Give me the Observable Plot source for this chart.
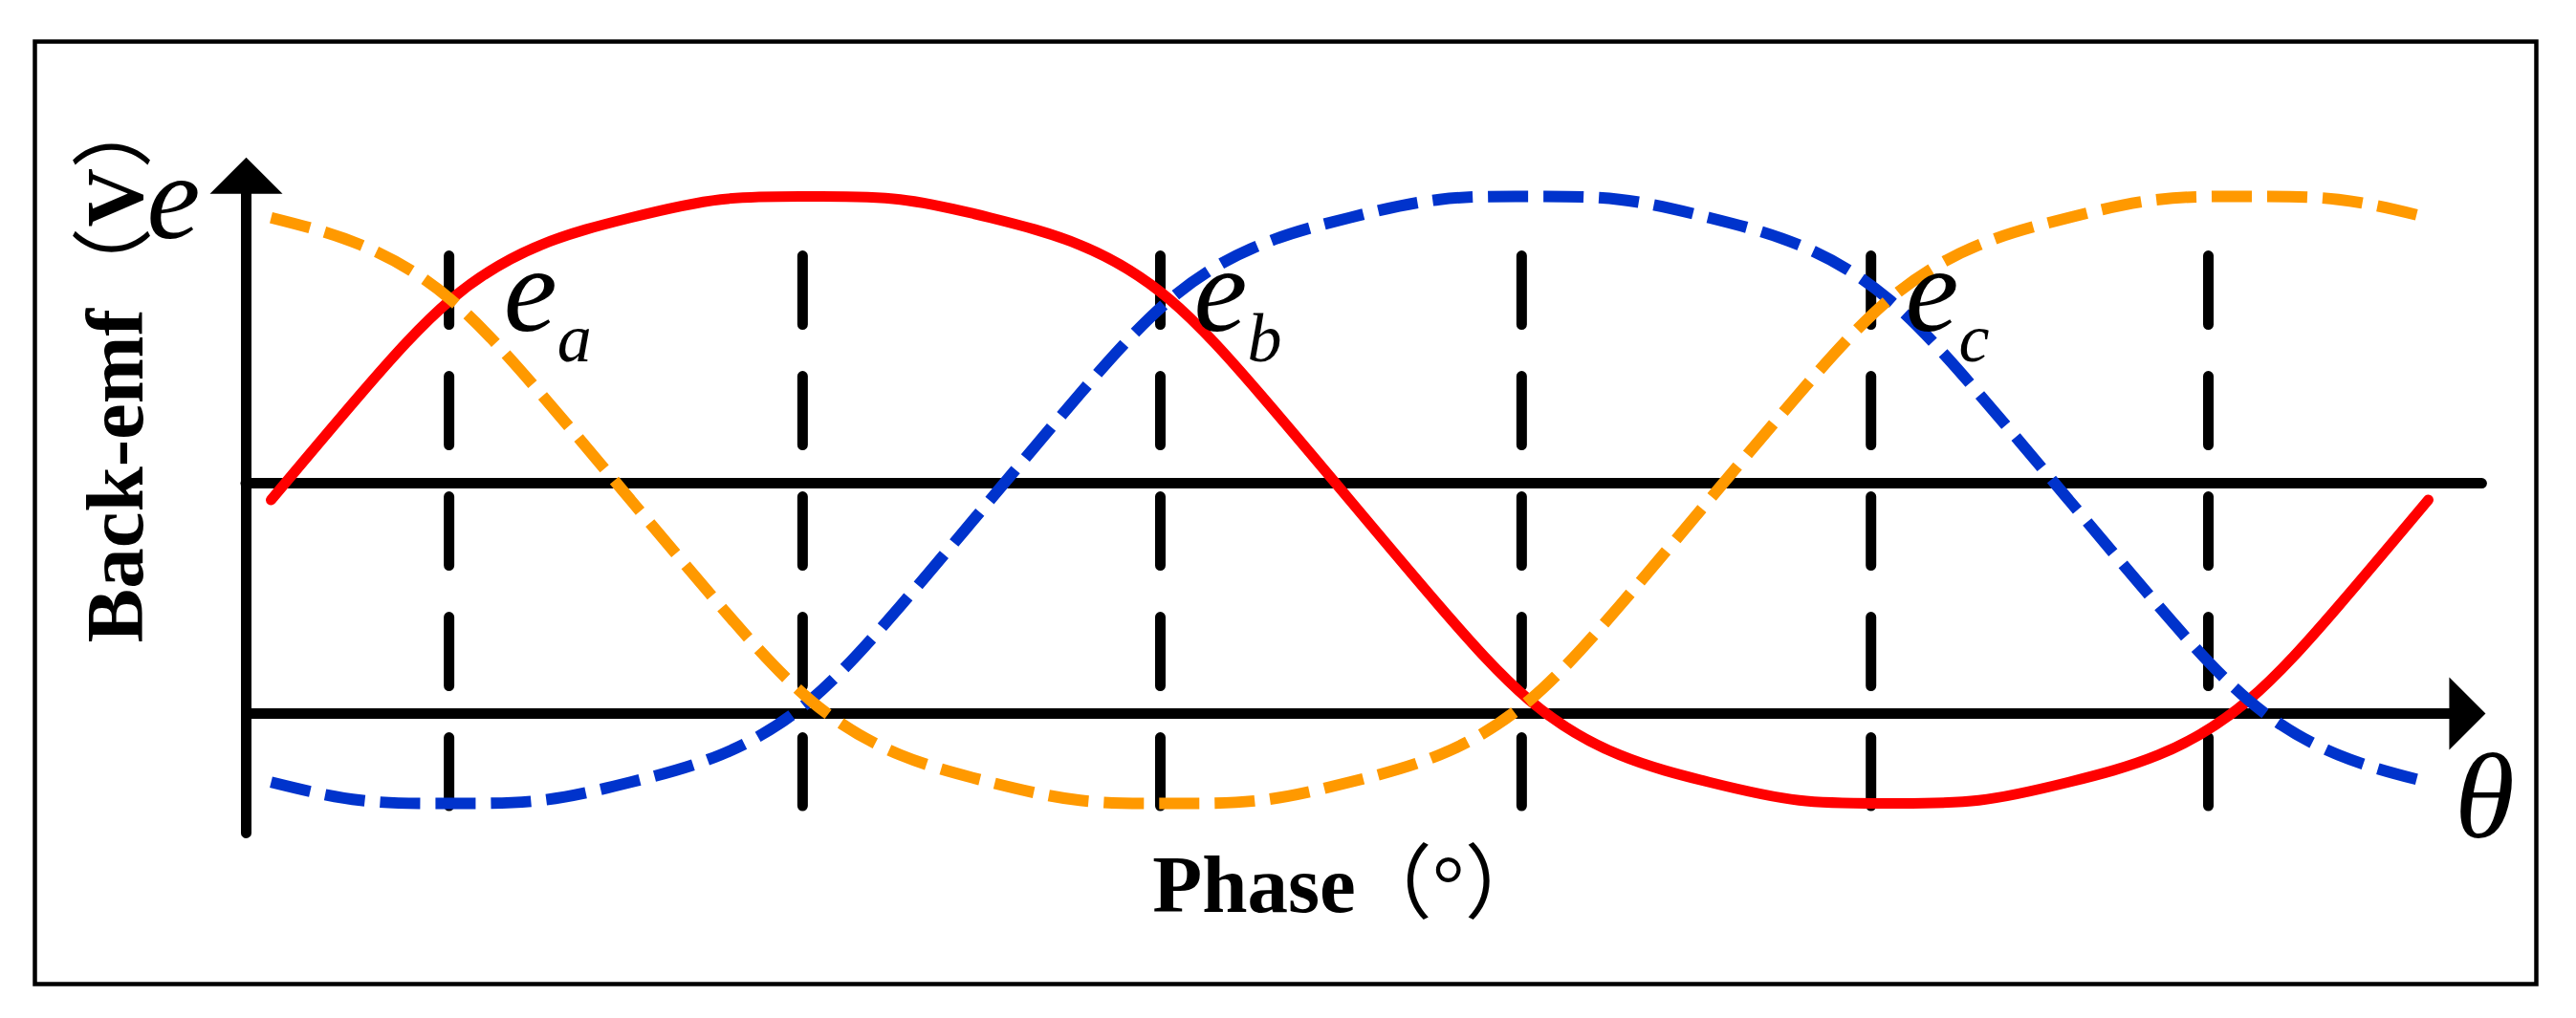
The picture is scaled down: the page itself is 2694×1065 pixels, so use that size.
<!DOCTYPE html>
<html>
<head>
<meta charset="utf-8">
<script src="https://cdn.jsdelivr.net/npm/d3@7"></script>
<script src="https://cdn.jsdelivr.net/npm/@observablehq/plot@0.6"></script>
<style>
  html, body { margin: 0; padding: 0; background: #fff; }
  #chart svg { display: block; }
</style>
</head>
<body>
<div id="chart"></div>
<script>
// ---- data ----
const theta = [0, 15, 30, 45, 60, 75, 90, 105, 120, 135, 150, 165, 180, 195, 210, 225, 240, 255, 270, 285, 300, 315, 330, 345, 360];
const ea = [0, 0.35, 0.66, 0.84, 0.93, 0.99, 1.00, 0.99, 0.93, 0.84, 0.66, 0.35, 0, -0.35, -0.66, -0.84, -0.93, -0.99, -1.00, -0.99, -0.93, -0.84, -0.66, -0.35, 0];
const eb = [-0.93, -0.99, -1.00, -0.99, -0.93, -0.84, -0.66, -0.35, 0, 0.35, 0.66, 0.84, 0.93, 0.99, 1.00, 0.99, 0.93, 0.84, 0.66, 0.35, 0, -0.35, -0.66, -0.84, -0.93];
const ec = [0.93, 0.84, 0.66, 0.35, 0, -0.35, -0.66, -0.84, -0.93, -0.99, -1.00, -0.99, -0.93, -0.84, -0.66, -0.35, 0, 0.35, 0.66, 0.84, 0.93, 0.99, 1.00, 0.99, 0.93];
const seriesNames = ["ea", "eb", "ec"];
const phaseMarks = [29.7, 88.7, 148.4, 208.7, 267.0, 323.3];   // dashed vertical guides (deg)
const zeroLevel = [0.055];                                       // upper horizontal line
const thetaAxisLevel = [-0.704];                                 // θ axis (arrow)
const eAxisTheta = [-4.15];                                      // e axis position
const labelSubs = ["a", "b", "c"];
const labelTheta = [38.8, 154.0, 272.7];

// ---- tables built from the arrays ----
const rows = [];
theta.forEach((t, i) => {
  rows.push({theta: t, e: ea[i], phase: seriesNames[0]});
  rows.push({theta: t, e: eb[i], phase: seriesNames[1]});
  rows.push({theta: t, e: ec[i], phase: seriesNames[2]});
});
const labels = labelSubs.map((s, i) => ({sub: s, theta: labelTheta[i]}));

// filled arrow head (tip up, anchored at base centre)
const arrowHead = {
  draw(ctx, size) {
    const r = Math.sqrt(size / Math.PI);
    ctx.moveTo(0, -r);
    ctx.lineTo(r, 0);
    ctx.lineTo(-r, 0);
    ctx.closePath();
  }
};

const serif = "'Liberation Serif', 'Times New Roman', 'Noto Sans CJK SC', serif";

const chart = Plot.plot({
  width: 2694,
  height: 1065,
  marginLeft: 36,
  marginTop: 43,
  marginRight: 42,
  marginBottom: 36,
  x: {domain: [0, 360], range: [283, 2539], axis: null},
  y: {domain: [-1, 1], range: [840, 205], axis: null},
  style: {fontFamily: serif, background: "white", overflow: "visible"},
  marks: [
    Plot.frame({stroke: "black", strokeWidth: 4.5}),
    // dashed vertical guides
    Plot.ruleX(phaseMarks, {y1: 0.803, y2: -1.0095, stroke: "black", strokeWidth: 11,
      strokeDasharray: "72,54", strokeLinecap: "round"}),
    // axes
    Plot.ruleX(eAxisTheta, {y1: -1.099, y2: 1.03, stroke: "black", strokeWidth: 11, strokeLinecap: "round"}),
    Plot.ruleY(zeroLevel, {x1: eAxisTheta[0], x2: 369, stroke: "black", strokeWidth: 11, strokeLinecap: "round"}),
    Plot.ruleY(thetaAxisLevel, {x1: eAxisTheta[0], x2: 364, stroke: "black", strokeWidth: 11}),
    Plot.dot(eAxisTheta, {x: d => d, y: 1.009, symbol: arrowHead, r: 38, fill: "black", stroke: "none"}),
    Plot.dot(thetaAxisLevel, {x: 363.5, y: d => d, symbol: arrowHead, r: 38, rotate: 90, fill: "black", stroke: "none"}),
    // curves
    Plot.line(rows.filter(d => d.phase === "ea"), {x: "theta", y: "e", stroke: "#ff0000", strokeWidth: 11,
      strokeLinecap: "round", curve: "natural"}),
    Plot.line(rows.filter(d => d.phase === "eb"), {x: "theta", y: "e", stroke: "#0033cc", strokeWidth: 12,
      strokeDasharray: "42,16", strokeLinecap: "butt", curve: "natural"}),
    Plot.line(rows.filter(d => d.phase === "ec"), {x: "theta", y: "e", stroke: "#ff9900", strokeWidth: 12,
      strokeDasharray: "42,16", strokeLinecap: "butt", curve: "natural"}),
    // labels
    Plot.text(labels, {x: "theta", y: 0.685, text: () => "e", textAnchor: "start",
      fontSize: 126, fontStyle: "italic"}),
    Plot.text(labels, {x: "theta", y: 0.685, text: "sub", dx: 56, dy: 49, textAnchor: "start",
      fontSize: 72, fontStyle: "italic"}),
    Plot.text(["e"], {x: -20.74, y: 0.991, textAnchor: "start", fontSize: 126, fontStyle: "italic"}),
    Plot.text(["θ"], {x: 369.4, y: -0.984, textAnchor: "middle", fontSize: 128, fontStyle: "italic"}),
    Plot.text(["Back-emf"], {x: -25.85, y: -0.471, rotate: -90, textAnchor: "start",
      fontSize: 85, fontWeight: "bold"}),
    Plot.text(["（"], {x: -25.85, y: 0.631, rotate: -90, textAnchor: "start", fontSize: 85, fontWeight: "normal"}),
    Plot.text(["V"], {x: -25.85, y: 0.899, rotate: -90, textAnchor: "start", fontSize: 85, fontWeight: "bold"}),
    Plot.text(["）"], {x: -25.85, y: 1.091, rotate: -90, textAnchor: "start", fontSize: 85, fontWeight: "normal"}),
    Plot.text(["Phase"], {x: 147.1, y: -1.271, textAnchor: "start", fontSize: 85, fontWeight: "bold"}),
    Plot.text(["（°）"], {x: 180.2, y: -1.271, textAnchor: "start", fontSize: 85, fontWeight: "normal"})
  ]
});
document.getElementById("chart").appendChild(chart);
</script>
</body>
</html>
